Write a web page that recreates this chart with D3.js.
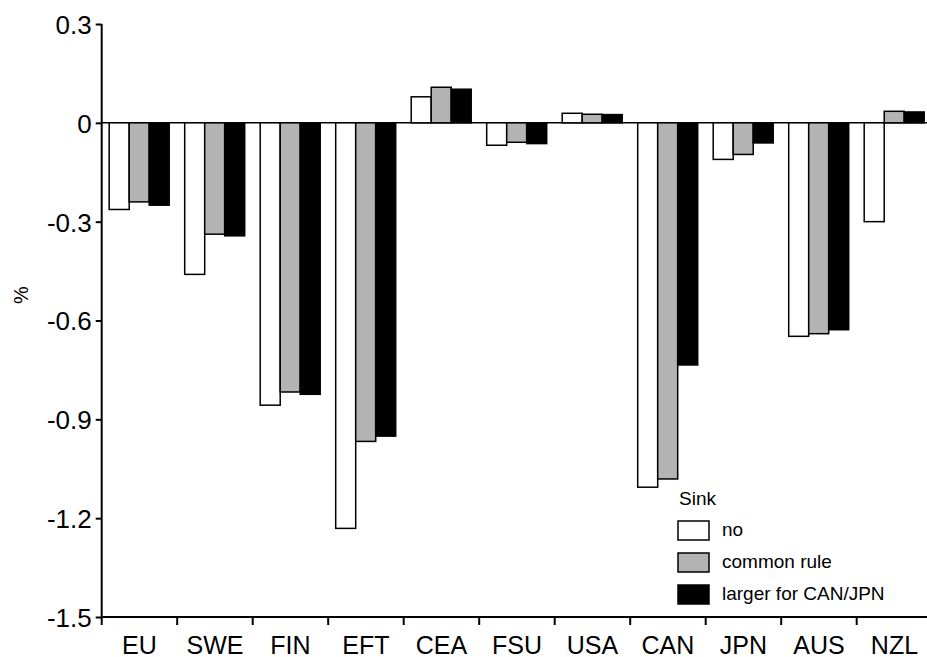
<!DOCTYPE html>
<html>
<head>
<meta charset="utf-8">
<script src="https://cdn.jsdelivr.net/npm/d3@7"></script>
<style>
  body { margin: 0; background: #fff; }
  svg text { font-family: "Liberation Sans", Arial, Helvetica, sans-serif; fill: #000; }
</style>
</head>
<body>
<script>
// data
const regions = ["EU", "SWE", "FIN", "EFT", "CEA", "FSU", "USA", "CAN", "JPN", "AUS", "NZL"];
const seriesNames = ["no", "common rule", "larger for CAN/JPN"];
const noSink = [-0.263, -0.46, -0.857, -1.231, 0.079, -0.068, 0.029, -1.106, -0.111, -0.648, -0.30];
const commonRule = [-0.24, -0.338, -0.817, -0.967, 0.108, -0.059, 0.026, -1.081, -0.096, -0.64, 0.035];
const largerCanJpn = [-0.25, -0.343, -0.824, -0.951, 0.102, -0.063, 0.025, -0.735, -0.061, -0.628, 0.033];
const yTicks = [0.3, 0, -0.3, -0.6, -0.9, -1.2, -1.5];
const fills = ["#ffffff", "#b3b3b3", "#000000"];
// ----------

const w = 927;
const h = 657;

const svg = d3.select("body")
  .append("svg")
  .attr("width", w)
  .attr("height", h);

// scales
const x = d3.scaleBand()
  .domain(regions)
  .range([101.7, 932.2])
  .padding(0);

const xInner = d3.scaleBand()
  .domain(seriesNames)
  .range([7.5, 67.5])
  .padding(0);

const y = d3.scaleLinear()
  .domain([-1.5, 0.3])
  .range([617, 24]);
// ----------

// bars
const allSeries = [noSink, commonRule, largerCanJpn];
const rows = [];
regions.forEach((r, i) => {
  seriesNames.forEach((s, j) => {
    rows.push({ region: r, series: s, idx: j, value: allSeries[j][i] });
  });
});

// zero line
svg.append("line")
  .attr("x1", x.range()[0])
  .attr("x2", w)
  .attr("y1", y(0))
  .attr("y2", y(0))
  .attr("stroke", "#000")
  .attr("stroke-width", 1.5);

svg.append("g")
  .selectAll("rect")
  .data(rows)
  .enter()
  .append("rect")
  .attr("x", (d) => x(d.region) + xInner(d.series))
  .attr("y", (d) => y(Math.max(0, d.value)))
  .attr("width", xInner.bandwidth())
  .attr("height", (d) => Math.abs(y(d.value) - y(0)))
  .attr("fill", (d) => fills[d.idx])
  .attr("stroke", "#000")
  .attr("stroke-width", 1.5);
// ----------

// y axis
const yAxis = svg.append("g")
  .attr("transform", `translate(${x.range()[0]}, 0)`)
  .call(d3.axisLeft(y)
    .tickValues(yTicks)
    .tickSize(6)
    .tickPadding(4)
    .tickFormat((d) => (d === 0 ? "0" : d.toFixed(1))));
yAxis.select(".domain").attr("stroke-width", 2).attr("d", `M0,${y(0.3)}V${y(-1.5)}`);
yAxis.selectAll(".tick line").attr("stroke-width", 2);
yAxis.selectAll("text").style("font-size", "26px").attr("dy", "0.36em");

// x axis
const xAxis = svg.append("g")
  .attr("transform", `translate(0, ${y(-1.5)})`)
  .call(d3.axisBottom(x).tickSize(0).tickPadding(14));
xAxis.select(".domain").attr("stroke-width", 2).attr("d", `M${x.range()[0]},0H${w}`);
xAxis.selectAll("text").style("font-size", "25px").attr("dy", "0.9em");

// tick marks between categories
xAxis.selectAll(".sep")
  .data(regions)
  .enter()
  .append("line")
  .attr("class", "sep")
  .attr("x1", (d) => x(d))
  .attr("x2", (d) => x(d))
  .attr("y1", 0)
  .attr("y2", 8)
  .attr("stroke", "#000")
  .attr("stroke-width", 2);
// ----------

// y label
svg.append("text")
  .text("%")
  .attr("transform", "translate(28, 295) rotate(-90)")
  .attr("text-anchor", "middle")
  .style("font-size", "20px");
// ----------

// legend
const legend = svg.append("g")
  .attr("transform", "translate(678, 505)");

legend.append("text")
  .text("Sink")
  .attr("x", 1)
  .attr("y", 0)
  .style("font-size", "19px");

const items = legend.selectAll(".item")
  .data(seriesNames)
  .enter()
  .append("g")
  .attr("class", "item")
  .attr("transform", (d, i) => `translate(0, ${16 + i * 32})`);

items.append("rect")
  .attr("width", 31)
  .attr("height", 19)
  .attr("fill", (d, i) => fills[i])
  .attr("stroke", "#000")
  .attr("stroke-width", 1.5);

items.append("text")
  .text((d) => d)
  .attr("x", 44)
  .attr("y", 15)
  .style("font-size", "19px");
// ----------
</script>
</body>
</html>
